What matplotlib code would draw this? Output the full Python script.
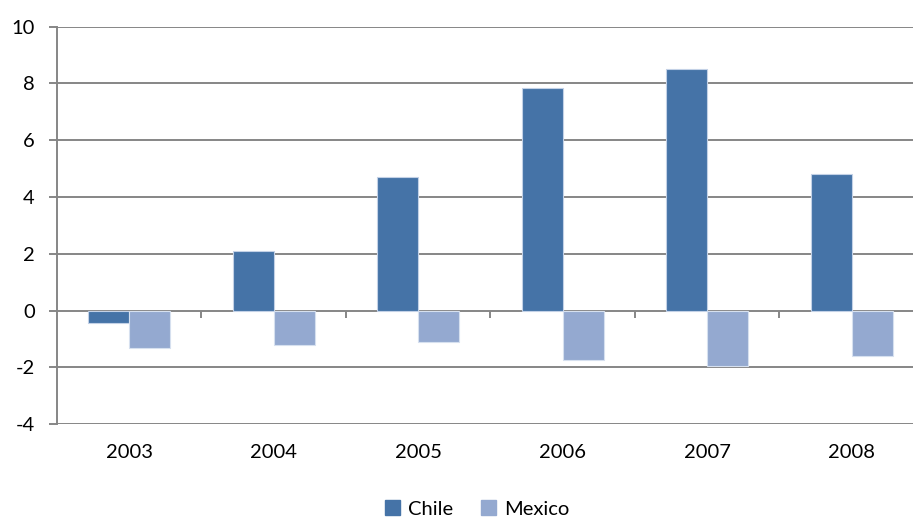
import matplotlib
matplotlib.use("Agg")
import matplotlib.pyplot as plt
import numpy as np
from matplotlib.patches import Patch

plt.rcParams['font.family'] = ['Lato', 'DejaVu Sans']
plt.rcParams['axes.unicode_minus'] = False

# annual values per country
years = ['2003', '2004', '2005', '2006', '2007', '2008']
chile = [-0.42, 2.11, 4.71, 7.84, 8.52, 4.80]
mexico = [-1.31, -1.22, -1.10, -1.75, -1.94, -1.58]

chile_color = '#4573A7'
mexico_color = '#94A9D0'
axis_gray = '#868686'

fig = plt.figure(figsize=(9.13, 5.18), dpi=100)
ax = fig.add_axes([0.0624, 0.1809, 0.9496, 0.7676])

x = np.arange(len(years))
w = 0.284
ax.bar(x - w / 2, chile, w, color=chile_color, edgecolor='#c3d1e6', linewidth=0.8, zorder=3)
ax.bar(x + w / 2, mexico, w, color=mexico_color, edgecolor='#d6e0ef', linewidth=0.8, zorder=3)

ax.set_xlim(-0.5, len(years) - 0.5)
ax.set_ylim(-4, 10)
ax.set_yticks(range(-4, 11, 2))
ax.yaxis.grid(True, color=axis_gray, linewidth=1.4, zorder=0)
ax.set_axisbelow(True)

for s in ['top', 'right', 'bottom']:
    ax.spines[s].set_visible(False)
ax.spines['left'].set_color(axis_gray)
ax.spines['left'].set_linewidth(1.4)

ax.tick_params(axis='y', direction='out', length=6, width=1.4, color=axis_gray,
               labelsize=14.5, pad=10)
ax.set_xticks(x)
ax.set_xticklabels(years)
ax.tick_params(axis='x', length=0, labelsize=14.5, pad=14)

# category separators hanging below the zero line
zero_pos = (0 - ax.get_ylim()[0]) / (ax.get_ylim()[1] - ax.get_ylim()[0])
sec = ax.secondary_xaxis(zero_pos)
sec.set_xticks(x[:-1] + 0.5)
sec.set_xticklabels([])
sec.tick_params(axis='x', direction='out', length=5, width=1.4, color=axis_gray)
sec.spines['bottom'].set_visible(False)

handles = [Patch(color=chile_color, label='Chile'), Patch(color=mexico_color, label='Mexico')]
fig.legend(handles=handles, loc='center', bbox_to_anchor=(477 / 913, 1 - 509 / 518),
           ncol=2, frameon=False, fontsize=14.5, handlelength=0.75, handleheight=0.75,
           handletextpad=0.4, columnspacing=1.4)

fig.savefig('out.png', dpi=100)
